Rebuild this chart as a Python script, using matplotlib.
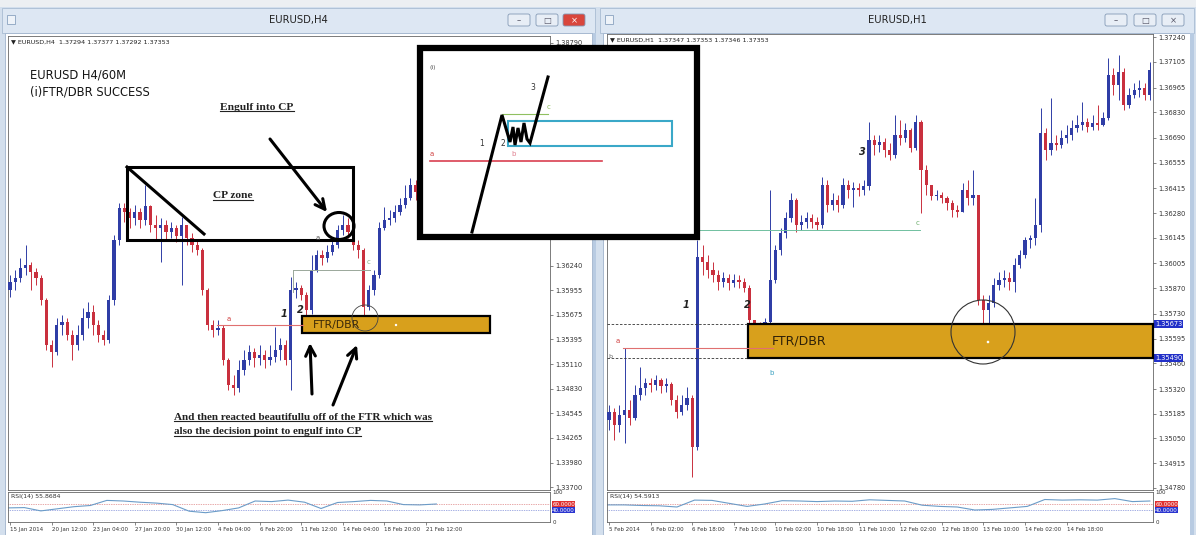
import numpy as np
import matplotlib.pyplot as plt
from matplotlib.patches import Rectangle, Circle, Ellipse, FancyBboxPatch
from matplotlib.transforms import blended_transform_factory

# ---------------- left window: EURUSD H4 (one candle drawn per 8 hours) ----------------
h4_open0 = 1.35960
h4_close = [1.36052, 1.36097, 1.36213, 1.36247, 1.36166, 1.36097, 1.35845, 1.35330, 1.35250, 1.35559,
            1.35593, 1.35444, 1.35330, 1.35444, 1.35639, 1.35707, 1.35559, 1.35444, 1.35387, 1.35845,
            1.36533, 1.36899, 1.36853, 1.36785, 1.36853, 1.36762, 1.36922, 1.36705, 1.36670, 1.36705,
            1.36624, 1.36670, 1.36578, 1.36705, 1.36556, 1.36476, 1.36418, 1.35960, 1.35559, 1.35501,
            1.35524, 1.35158, 1.34871, 1.34836, 1.35043, 1.35158, 1.35250, 1.35181, 1.35215, 1.35158,
            1.35192, 1.35273, 1.35330, 1.35158, 1.35960, 1.35983, 1.35903, 1.35730, 1.36189, 1.36361,
            1.36327, 1.36395, 1.36476, 1.36647, 1.36705, 1.36624, 1.36476, 1.36418, 1.35765, 1.35960,
            1.36132, 1.36670, 1.36762, 1.36785, 1.36853, 1.36934, 1.37014, 1.37163, 1.37083, 1.37106,
            1.37220, 1.37277, 1.37335]
h4_high = [1.36132, 1.36189, 1.36327, 1.36476, 1.36281, 1.36213, 1.36132, 1.35868, 1.35387, 1.35639,
           1.35673, 1.35639, 1.35501, 1.35559, 1.35753, 1.35822, 1.35788, 1.35616, 1.35501, 1.35903,
           1.36590, 1.36957, 1.36957, 1.36899, 1.36934, 1.36899, 1.37163, 1.36934, 1.36819, 1.36785,
           1.36762, 1.36739, 1.36705, 1.36796, 1.36705, 1.36613, 1.36533, 1.36441, 1.35983, 1.35616,
           1.35616, 1.35559, 1.35181, 1.34986, 1.35158, 1.35273, 1.35330, 1.35295, 1.35330, 1.35273,
           1.35330, 1.35536, 1.35410, 1.35387, 1.36109, 1.36052, 1.36017, 1.35937, 1.36361, 1.36418,
           1.36418, 1.36476, 1.36556, 1.36705, 1.36819, 1.36785, 1.36647, 1.36533, 1.36441, 1.36017,
           1.36189, 1.36739, 1.36911, 1.36876, 1.36934, 1.37014, 1.37163, 1.37243, 1.37220, 1.37197,
           1.37312, 1.37358, 1.37426]
h4_low = [1.35880, 1.35960, 1.36052, 1.36132, 1.35960, 1.36017, 1.35788, 1.35273, 1.35078, 1.35215,
          1.35444, 1.35387, 1.35158, 1.35273, 1.35387, 1.35524, 1.35444, 1.35364, 1.35330, 1.35352,
          1.35788, 1.36476, 1.36739, 1.36670, 1.36705, 1.36670, 1.36705, 1.36624, 1.36533, 1.36281,
          1.36533, 1.36556, 1.36510, 1.36017, 1.36476, 1.36395, 1.36361, 1.35903, 1.35501, 1.35421,
          1.35444, 1.35101, 1.34814, 1.34757, 1.34791, 1.34986, 1.35101, 1.35078, 1.35101, 1.35066,
          1.35101, 1.35135, 1.35158, 1.35101, 1.34814, 1.35868, 1.35845, 1.35673, 1.35684, 1.36166,
          1.36247, 1.36281, 1.36361, 1.36441, 1.36590, 1.36556, 1.36418, 1.36327, 1.35600, 1.35730,
          1.35903, 1.36097, 1.36647, 1.36705, 1.36739, 1.36819, 1.36899, 1.36991, 1.36991, 1.37014,
          1.37048, 1.37163, 1.37220]
h4_rsi = [47, 48, 37, 44, 51, 55, 72, 70, 66, 63, 58, 36, 31, 38, 47, 70, 68, 73, 66, 45,
          65, 68, 72, 70, 58, 57, 60]
h4_price_ticks = [1.38790, 1.36240, 1.35955, 1.35675, 1.35395, 1.35110, 1.34830, 1.34545,
                  1.34265, 1.33980, 1.33700]
h4_time_labels = ['15 Jan 2014', '20 Jan 12:00', '23 Jan 04:00', '27 Jan 20:00', '30 Jan 12:00',
                  '4 Feb 04:00', '6 Feb 20:00', '11 Feb 12:00', '14 Feb 04:00', '18 Feb 20:00',
                  '21 Feb 12:00']

# ---------------- right window: EURUSD H1 (one candle drawn per 2 hours) ----------------
h1_open0 = 1.35151
h1_close = [1.35195, 1.35124, 1.35178, 1.35205, 1.35162, 1.35287, 1.35325, 1.35353, 1.35342, 1.35369,
            1.35336, 1.35347, 1.35260, 1.35195, 1.35233, 1.35271, 1.35004, 1.36040, 1.36013, 1.35969,
            1.35942, 1.35904, 1.35925, 1.35898, 1.35915, 1.35904, 1.35871, 1.35696, 1.35653, 1.35642,
            1.35685, 1.35915, 1.36078, 1.36171, 1.36253, 1.36351, 1.36215, 1.36231, 1.36253, 1.36231,
            1.36215, 1.36433, 1.36324, 1.36351, 1.36324, 1.36433, 1.36405, 1.36416, 1.36405, 1.36427,
            1.36678, 1.36651, 1.36667, 1.36624, 1.36596, 1.36706, 1.36689, 1.36733, 1.36635, 1.36776,
            1.36515, 1.36433, 1.36373, 1.36378, 1.36362, 1.36335, 1.36296, 1.36285, 1.36405, 1.36362,
            1.36378, 1.35806, 1.35751, 1.35789, 1.35887, 1.35915, 1.35925, 1.35904, 1.35996, 1.36051,
            1.36133, 1.36144, 1.36215, 1.36716, 1.36624, 1.36662, 1.36651, 1.36689, 1.36706, 1.36744,
            1.36760, 1.36776, 1.36749, 1.36771, 1.36760, 1.36798, 1.37033, 1.36978, 1.37049, 1.36869,
            1.36924, 1.36951, 1.36962, 1.36924, 1.37060]
h1_high = [1.35233, 1.35216, 1.35233, 1.35544, 1.35260, 1.35342, 1.35440, 1.35380, 1.35380, 1.35396,
           1.35380, 1.35380, 1.35358, 1.35287, 1.35287, 1.35331, 1.35287, 1.36133, 1.36105, 1.36051,
           1.36013, 1.35969, 1.35958, 1.35947, 1.35947, 1.35942, 1.35925, 1.35887, 1.35696, 1.35685,
           1.35707, 1.36405, 1.36105, 1.36198, 1.36285, 1.36389, 1.36362, 1.36269, 1.36285, 1.36275,
           1.36258, 1.36476, 1.36460, 1.36389, 1.36378, 1.36471, 1.36460, 1.36449, 1.36444, 1.36460,
           1.36776, 1.36706, 1.36706, 1.36689, 1.36662, 1.36815, 1.36787, 1.36771, 1.36744, 1.36815,
           1.36787, 1.36542, 1.36416, 1.36405, 1.36395, 1.36373, 1.36351, 1.36324, 1.36444, 1.36460,
           1.36515, 1.36378, 1.35833, 1.35833, 1.35925, 1.35958, 1.35969, 1.35958, 1.36035, 1.36078,
           1.36149, 1.36160, 1.36362, 1.36853, 1.36744, 1.36907, 1.36706, 1.36733, 1.36760, 1.36787,
           1.36815, 1.36886, 1.36798, 1.36815, 1.36869, 1.36831, 1.37126, 1.37071, 1.37142, 1.37071,
           1.36962, 1.36989, 1.37006, 1.36989, 1.37104]
h1_low = [1.35096, 1.35042, 1.35085, 1.35025, 1.35124, 1.35151, 1.35260, 1.35287, 1.35304, 1.35315,
          1.35298, 1.35304, 1.35233, 1.35162, 1.35178, 1.35205, 1.34840, 1.34987, 1.35942, 1.35925,
          1.35904, 1.35860, 1.35876, 1.35860, 1.35876, 1.35871, 1.35849, 1.35669, 1.35615, 1.35609,
          1.35625, 1.35669, 1.35898, 1.36051, 1.36144, 1.36231, 1.36176, 1.36187, 1.36198, 1.36198,
          1.36187, 1.36198, 1.36285, 1.36296, 1.36285, 1.36307, 1.36362, 1.36313, 1.36373, 1.36378,
          1.36405, 1.36596, 1.36613, 1.36586, 1.36569, 1.36580, 1.36651, 1.36667, 1.36613, 1.36624,
          1.36280, 1.36378, 1.36351, 1.36351, 1.36335, 1.36296, 1.36258, 1.36258, 1.36296, 1.36324,
          1.36324, 1.35778, 1.35615, 1.35625, 1.35767, 1.35860, 1.35876, 1.35860, 1.35849, 1.35980,
          1.36035, 1.36089, 1.36105, 1.36176, 1.36569, 1.36596, 1.36624, 1.36635, 1.36662, 1.36678,
          1.36722, 1.36733, 1.36722, 1.36733, 1.36733, 1.36755, 1.36787, 1.36924, 1.36897, 1.36842,
          1.36853, 1.36907, 1.36913, 1.36897, 1.36897]
h1_rsi = [57, 57, 55, 54, 50, 73, 72, 62, 52, 60, 71, 70, 68, 70, 69, 74, 72, 70, 56, 52,
          50, 40, 42, 47, 52, 75, 73, 74, 73, 78, 68, 70]
h1_price_ticks = [1.37240, 1.37105, 1.36965, 1.36830, 1.36690, 1.36555, 1.36415, 1.36280, 1.36145,
                  1.36005, 1.35870, 1.35730, 1.35595, 1.35460, 1.35320, 1.35185, 1.35050, 1.34915,
                  1.34780]
h1_time_labels = ['5 Feb 2014', '6 Feb 02:00', '6 Feb 18:00', '7 Feb 10:00', '10 Feb 02:00',
                  '10 Feb 18:00', '11 Feb 10:00', '12 Feb 02:00', '12 Feb 18:00', '13 Feb 10:00',
                  '14 Feb 02:00', '14 Feb 18:00']

ftr_zone = (1.35490, 1.35673)

BULL = '#2f3da6'
BEAR = '#c9303e'
GOLD = '#d8a01c'
W, H = 1196, 535

fig = plt.figure(figsize=(W / 100, H / 100), dpi=100)
fig.patch.set_facecolor('#d3dfed')


def rect_of(x0, y0, x1, y1):
    # pixel box (top-left origin) -> figure fraction
    return [x0 / W, 1 - y1 / H, (x1 - x0) / W, (y1 - y0) / H]


def draw_candles(ax, open0, close, high, low):
    c = np.array(close)
    o = np.r_[open0, c[:-1]]
    hi = np.maximum(np.array(high), np.maximum(o, c))
    lo = np.minimum(np.array(low), np.minimum(o, c))
    x = np.arange(len(c))
    cols = np.where(c >= o, BULL, BEAR)
    ax.vlines(x, lo, hi, colors=cols, lw=0.7, zorder=3)
    ax.bar(x, np.maximum(np.abs(c - o), 0.00003), bottom=np.minimum(o, c),
           width=0.62, color=cols, lw=0, zorder=4)


def price_panel(rect, xmax, ylim, ticks, header):
    ax = fig.add_axes(rect)
    ax.set_zorder(2)
    ax.set_facecolor('white')
    ax.set_xlim(-0.385, xmax)
    ax.set_ylim(*ylim)
    ax.yaxis.tick_right()
    ax.set_yticks(ticks)
    ax.set_yticklabels([f'{t:.5f}' for t in ticks], fontsize=4.8, color='#333')
    ax.tick_params(axis='y', length=2.5, width=0.5, pad=1.5, colors='#555', labelcolor='#333')
    ax.set_xticks([])
    for s in ax.spines.values():
        s.set_color('#666')
        s.set_linewidth(0.6)
    ax.text(0.006, 0.993, header, transform=ax.transAxes, va='top', ha='left',
            fontsize=4.6, color='#222')
    return ax


def rsi_panel(rect, n, xmax, rsi, labels, title):
    ax = fig.add_axes(rect)
    ax.set_zorder(2)
    ax.set_facecolor('white')
    ax.set_xlim(-0.385, xmax)
    ax.set_ylim(0, 100)
    ax.axhline(60, color='#d05050', lw=0.5, ls=(0, (1, 1.5)))
    ax.axhline(40, color='#4a5fc8', lw=0.5, ls=(0, (1, 1.5)))
    ax.plot(np.linspace(-0.4, n - 1, len(rsi)), rsi, color='#6b9cc8', lw=0.8)
    ax.set_yticks([])
    ax.set_xticks(np.arange(len(labels)) * 8)
    ax.set_xticklabels(labels, fontsize=4.0, ha='left', color='#333')
    ax.tick_params(axis='x', length=2, width=0.5, pad=1.5, colors='#555', labelcolor='#333')
    for s in ax.spines.values():
        s.set_color('#666')
        s.set_linewidth(0.6)
    ax.text(0.006, 0.93, title, transform=ax.transAxes, va='top', ha='left', fontsize=4.4, color='#333')
    tr = blended_transform_factory(ax.transAxes, ax.transData)
    ax.text(1.004, 100, '100', transform=tr, fontsize=4, va='center', color='#333')
    ax.text(1.004, 60, '60.0000', transform=tr, fontsize=4, va='center', color='white',
            bbox=dict(boxstyle='square,pad=0.1', fc='#e03030', ec='none'))
    ax.text(1.004, 40, '40.0000', transform=tr, fontsize=4, va='center', color='white',
            bbox=dict(boxstyle='square,pad=0.1', fc='#2a35d0', ec='none'))
    ax.text(1.004, 0, '0', transform=tr, fontsize=4, va='center', color='#333')
    return ax


# ---------------- window chrome ----------------
bg = fig.add_axes([0, 0, 1, 1])
bg.set_zorder(0)
bg.set_xlim(0, W)
bg.set_ylim(H, 0)
bg.axis('off')
bg.add_patch(Rectangle((0, 0), W, 7, fc='#eceff2', ec='none'))
for x0, x1, title in [(2, 595, 'EURUSD,H4'), (600, 1194, 'EURUSD,H1')]:
    bg.add_patch(Rectangle((x0, 8), x1 - x0, 25, fc='#dde7f3', ec='#a9bcd3', lw=0.6))
    bg.add_patch(Rectangle((x0 + 3, 33), x1 - x0 - 6, H - 33, fc='white', ec='#9fb3cc', lw=0.6))
    bg.text((x0 + x1) / 2, 20, title, ha='center', va='center', fontsize=7.2, color='#222')
    bg.add_patch(Rectangle((x0 + 5, 15), 8, 9, fc='#eef3f9', ec='#8aa2c0', lw=0.6))
btns = [(508, '#e8eef6'), (536, '#e8eef6'), (563, '#d9463c'),
        (1105, '#e8eef6'), (1134, '#e8eef6'), (1162, '#e8eef6')]
for bx, col in btns:
    bg.add_patch(FancyBboxPatch((bx, 14), 22, 12, boxstyle='round,pad=0,rounding_size=2',
                                fc=col, ec='#8399b5', lw=0.6))
for bx, sym in [(519, '–'), (547, '□'), (574, '×'), (1116, '–'), (1145, '□'), (1173, '×')]:
    bg.text(bx, 20.5, sym, ha='center', va='center', fontsize=6,
            color='white' if bx == 574 else '#556')
bg.add_patch(Rectangle((593, 33), 3, H - 33, fc='#b8cbe2', ec='none'))
bg.add_patch(Rectangle((1190, 33), 4, H - 33, fc='#b8cbe2', ec='none'))

# ---------------- chart panels ----------------
ax_l = price_panel(rect_of(8, 36, 550, 490), 103.85, (1.33668, 1.38870), h4_price_ticks,
                   '▼ EURUSD,H4  1.37294 1.37377 1.37292 1.37353')
draw_candles(ax_l, h4_open0, h4_close, h4_high, h4_low)
rsi_panel(rect_of(8, 492, 550, 522), len(h4_close), 103.85, h4_rsi, h4_time_labels, 'RSI(14) 55.8684')

ax_r = price_panel(rect_of(607, 34, 1153, 490), 104.6, (1.34769, 1.37257), h1_price_ticks,
                   '▼ EURUSD,H1  1.37347 1.37353 1.37346 1.37353')
draw_candles(ax_r, h1_open0, h1_close, h1_high, h1_low)
rsi_panel(rect_of(607, 492, 1153, 522), len(h1_close), 104.6, h1_rsi, h1_time_labels, 'RSI(14) 54.5913')

# highlighted zone prices on the H1 price scale
tr_r = blended_transform_factory(ax_r.transAxes, ax_r.transData)
for p in ftr_zone:
    ax_r.text(1.004, p, f'{p:.5f}', transform=tr_r, fontsize=4.8, va='center', ha='left',
              color='white', bbox=dict(boxstyle='square,pad=0.15', fc='#2230c8', ec='none'))

# ---------------- annotations (pixel coordinates) ----------------
ov = fig.add_axes([0, 0, 1, 1])
ov.set_zorder(5)
ov.set_xlim(0, W)
ov.set_ylim(H, 0)
ov.axis('off')
ov.patch.set_alpha(0)

SERIF = 'Liberation Serif'
underline = []


def arrow(tail, tip):
    ov.annotate('', xy=tip, xytext=tail,
                arrowprops=dict(arrowstyle='->,head_length=0.7,head_width=0.35', lw=2.2,
                                color='black', shrinkA=0, shrinkB=0))


def small(x, y, s, color, size=5.5, **kw):
    ov.text(x, y, s, color=color, fontsize=size, ha='center', va='center', **kw)


# left chart
ov.text(30, 75, 'EURUSD H4/60M', fontsize=8.3, color='#151515', va='center')
ov.text(30, 92, '(i)FTR/DBR SUCCESS', fontsize=8.3, color='#151515', va='center')
underline.append(ov.text(257, 107, 'Engulf into CP', family=SERIF, weight='bold', fontsize=8.2,
                         ha='center', va='center', color='#222'))
arrow((270, 139), (327, 212))
ov.add_patch(Rectangle((127, 167), 226, 73, fill=False, ec='black', lw=2.2))
ov.plot([127, 204], [167, 234], color='black', lw=2.2)
underline.append(ov.text(233, 196, 'CP zone', family=SERIF, weight='bold', fontsize=8.2,
                         ha='center', va='center', color='#222'))
ov.add_patch(Ellipse((339, 226), 30, 27, fill=False, ec='black', lw=2.2))
small(318, 238, 'a', '#555', 5)

ov.plot([293, 370], [270, 270], color='#9aa89a', lw=0.7)
ov.plot([293, 293], [270, 292], color='#9aa89a', lw=0.7)
small(369, 262, 'c', '#8ab08a', 5)
ov.plot([217, 303], [325, 325], color='#e07070', lw=0.8)
small(229, 319, 'a', '#d04040', 5)
small(284, 314, '1', '#222', 7, style='italic', weight='bold')
small(300, 310, '2', '#222', 7, style='italic', weight='bold')

ov.add_patch(Rectangle((302, 316), 188, 17, fc=GOLD, ec='black', lw=1.6))
ov.text(313, 325, 'FTR/DBR', fontsize=7.8, color='#3a2808', va='center', ha='left')
ov.add_patch(Circle((396, 325), 1.2, fc='white', ec='none'))
ov.add_patch(Circle((365, 318), 13, fill=False, ec='#444', lw=0.6))
arrow((312, 394), (310, 343))
arrow((333, 405), (357, 345))
underline.append(ov.text(174, 417, 'And then reacted beautifullu off of the FTR which was',
                         family=SERIF, weight='bold', fontsize=8, va='center', color='#222'))
underline.append(ov.text(174, 432, 'also the decision point to engulf into CP',
                         family=SERIF, weight='bold', fontsize=8, va='center', color='#222'))

# right chart
for yy in (324, 358):
    ov.plot([607, 748], [yy, yy], color='#333', lw=0.6, ls=(0, (3, 2)))
ov.add_patch(Rectangle((748, 324), 405, 34, fc=GOLD, ec='black', lw=1.6))
ov.text(772, 341, 'FTR/DBR', fontsize=9, color='#2e2008', va='center', ha='left')
ov.plot([623, 773], [348, 348], color='#e07070', lw=0.8)
small(618, 341, 'a', '#d04040', 5)
small(610, 357, 'b', '#666', 4.5)
small(772, 373, 'b', '#3aa0c0', 5)
ov.plot([697, 920], [230, 230], color='#70c0a0', lw=0.7)
small(918, 223, 'c', '#70b070', 5)
small(686, 305, '1', '#222', 7, style='italic', weight='bold')
small(747, 305, '2', '#222', 7, style='italic', weight='bold')
small(862, 152, '3', '#222', 7, style='italic', weight='bold')
ov.add_patch(Circle((983, 332), 32, fill=False, ec='#333', lw=0.8))
ov.add_patch(Circle((988, 342), 1.3, fc='white', ec='none'))

# inset sketch
ov.add_patch(Rectangle((420, 48), 277, 189, fc='white', ec='black', lw=4.5, zorder=6))
ov.text(433, 67, '(i)', fontsize=4.5, color='#555', ha='center', va='center', zorder=7)
ov.plot([430, 602], [161, 161], color='#d94050', lw=1.2, zorder=7)
ov.text(432, 154, 'a', fontsize=5, color='#d04040', ha='center', va='center', zorder=7)
ov.text(514, 154, 'b', fontsize=5, color='#e08090', ha='center', va='center', zorder=7)
ov.plot([502, 548], [114, 114], color='#90c060', lw=0.8, zorder=7)
ov.text(549, 107, 'c', fontsize=5, color='#90c060', ha='center', va='center', zorder=7)
ov.add_patch(Rectangle((508, 121), 164, 25, fill=False, ec='#3aa8c8', lw=1.5, zorder=7))
zig_x = [472, 502, 510, 513, 515, 518, 521, 524, 527, 530, 548]
zig_y = [232, 115, 142, 127, 145, 128, 142, 123, 139, 143, 77]
ov.plot(zig_x, zig_y, color='black', lw=2.2, zorder=8, solid_joinstyle='miter')
for tx, ty, s in [(482, 143, '1'), (503, 144, '2'), (533, 88, '3')]:
    ov.text(tx, ty, s, fontsize=5.5, color='#333', ha='center', va='center', zorder=7)

# underline the hand-written serif notes
fig.canvas.draw()
renderer = fig.canvas.get_renderer()
inv = ov.transData.inverted()
for t in underline:
    bb = t.get_window_extent(renderer)
    (x0, y0), (x1, _) = inv.transform([(bb.x0, bb.y0), (bb.x1, bb.y0)])
    ov.plot([x0, x1], [y0 - 0.5, y0 - 0.5], color='#222', lw=0.8)

fig.savefig('out.png', dpi=100)
